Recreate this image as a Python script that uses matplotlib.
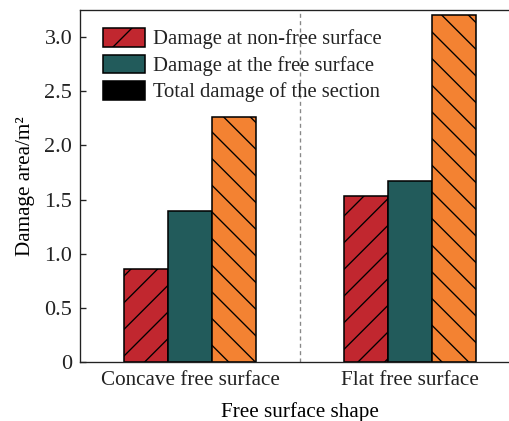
import matplotlib
matplotlib.use("Agg")
import matplotlib.pyplot as plt
from matplotlib.patches import Patch
import numpy as np

# data
shapes = ["Concave free surface", "Flat free surface"]
series = ["Damage at non-free surface", "Damage at the free surface",
          "Total damage of the section"]
non_free = [0.86, 1.53]
free = [1.39, 1.67]
total = [2.26, 3.20]
yticks = [0, 0.5, 1.0, 1.5, 2.0, 2.5, 3.0]
ytick_labels = ["0", "0.5", "1.0", "1.5", "2.0", "2.5", "3.0"]

colors = ["#C1272F", "#225B5B", "#F38232"]
hatches = ["//", None, "\\\\"]

plt.rcParams["font.family"] = ["Liberation Serif", "DejaVu Serif"]
plt.rcParams["hatch.linewidth"] = 0.6
plt.rcParams["text.color"] = "#222222"

DPI = 160
fig = plt.figure(figsize=(509 / DPI, 421 / DPI), dpi=DPI)
ax = fig.add_axes([80 / 509, 59 / 421, 440 / 509, 352 / 421])

x = np.arange(len(shapes))
w = 0.2
for i, vals in enumerate([non_free, free, total]):
    ax.bar(x + (i - 1) * w, vals, w, color=colors[i], edgecolor="black",
           linewidth=0.7, hatch=hatches[i], zorder=2)

ax.axvline(0.5, color="#888888", linestyle=(0, (3, 2.5)), linewidth=0.6, zorder=1)

ax.set_xlim(-0.5, 1.5)
ax.set_ylim(0, 3.25)
ax.set_xticks(x)
ax.set_xticklabels(shapes, fontsize=9.5)
ax.set_yticks(yticks)
ax.set_yticklabels(ytick_labels, fontsize=10)
ax.tick_params(direction="in", length=2.6, width=0.6, pad=3.5, colors="#222222")
ax.tick_params(axis="x", pad=4)
for s in ["left", "bottom", "top"]:
    ax.spines[s].set_linewidth(0.6)
    ax.spines[s].set_color("#222222")
ax.spines["right"].set_visible(False)

ax.set_xlabel("Free surface shape", fontsize=9.5, labelpad=5.5)
ax.set_ylabel("Damage area/m²", fontsize=9.5, labelpad=4)

handles = [
    Patch(facecolor=colors[0], edgecolor="black", hatch="/", linewidth=0.7),
    Patch(facecolor=colors[1], edgecolor="black", linewidth=0.7),
    Patch(facecolor="black", edgecolor="black", linewidth=0.7),
]
ax.legend(handles, series, loc="upper left", frameon=False, fontsize=9.3,
          handlelength=2.05, handleheight=1.0, handletextpad=0.4,
          labelspacing=0.25, borderaxespad=0.0, bbox_to_anchor=(0.033, 0.972))

fig.savefig("out.png", dpi=DPI)
